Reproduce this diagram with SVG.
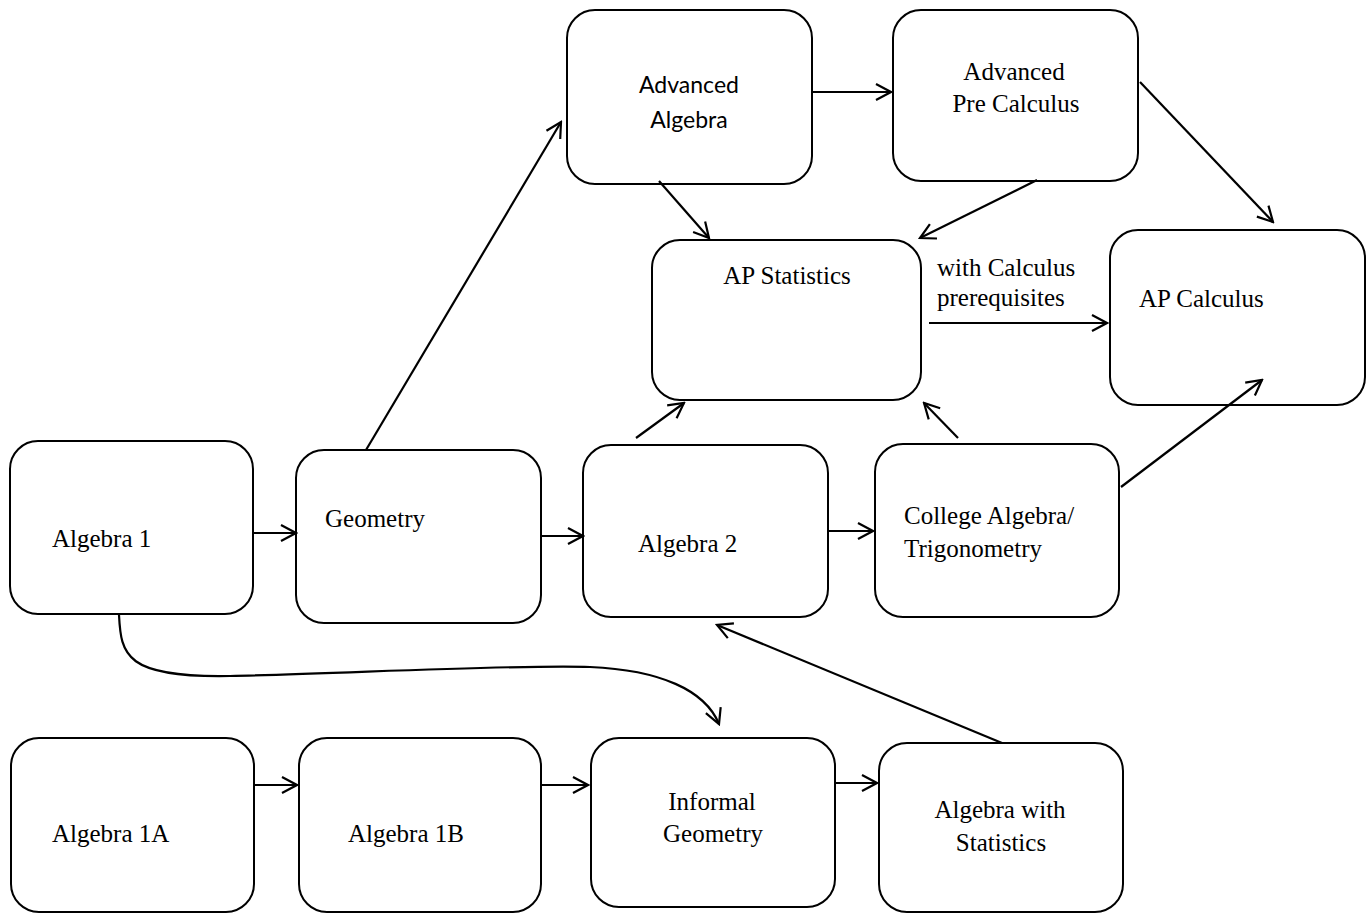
<svg xmlns="http://www.w3.org/2000/svg" width="1368" height="916" viewBox="0 0 1368 916">
<style>
.box{fill:#fff;stroke:#000;stroke-width:2}
.c{fill:none;stroke:#000;stroke-width:2.2}
.t{font-family:"Liberation Serif","Times New Roman",serif;font-size:25px;fill:#000}
.s{font-family:"Lato","Liberation Sans",sans-serif;font-size:23px;fill:#000}
.m{text-anchor:middle}
</style>
<defs>
<marker id="a" markerUnits="userSpaceOnUse" markerWidth="20" markerHeight="20" viewBox="0 0 20 20" refX="18" refY="10" orient="auto">
<path d="M3,2 L18,10 L3,18" fill="none" stroke="#000" stroke-width="2.2"/>
</marker>
</defs>
<rect width="1368" height="916" fill="#fff"/>
<g id="algebra1"><rect class="box" x="10" y="441" width="243" height="173" rx="28"/><text class="t" x="52" y="547">Algebra 1</text></g>
<g id="geometry"><rect class="box" x="296" y="450" width="245" height="173" rx="28"/><text class="t" x="325" y="527">Geometry</text></g>
<g id="algebra2"><rect class="box" x="583" y="445" width="245" height="172" rx="28"/><text class="t" x="638" y="552">Algebra 2</text></g>
<g id="college"><rect class="box" x="875" y="444" width="244" height="173" rx="28"/><text class="t" x="904" y="524">College Algebra/</text><text class="t" x="904" y="557">Trigonometry</text></g>
<g id="advalg"><rect class="box" x="567" y="10" width="245" height="174" rx="28"/><text class="s m" x="689" y="93">Advanced</text><text class="s m" x="689" y="128">Algebra</text></g>
<g id="advprecalc"><rect class="box" x="893" y="10" width="245" height="171" rx="28"/><text class="t m" x="1014" y="80">Advanced</text><text class="t m" x="1016" y="112">Pre Calculus</text></g>
<g id="apstats"><rect class="box" x="652" y="240" width="269" height="160" rx="28"/><text class="t m" x="787" y="284">AP Statistics</text></g>
<g id="label"><text class="t" x="937" y="276">with Calculus</text><text class="t" x="937" y="306">prerequisites</text></g>
<g id="apcalc"><rect class="box" x="1110" y="230" width="255" height="175" rx="28"/><text class="t" x="1139" y="307">AP Calculus</text></g>
<g id="algebra1a"><rect class="box" x="11" y="738" width="243" height="174" rx="28"/><text class="t" x="52" y="842">Algebra 1A</text></g>
<g id="algebra1b"><rect class="box" x="299" y="738" width="242" height="174" rx="28"/><text class="t" x="348" y="842">Algebra 1B</text></g>
<g id="informal"><rect class="box" x="591" y="738" width="244" height="169" rx="28"/><text class="t m" x="712" y="810">Informal</text><text class="t m" x="713" y="842">Geometry</text></g>
<g id="algstats"><rect class="box" x="879" y="743" width="244" height="169" rx="28"/><text class="t m" x="1000" y="818">Algebra with</text><text class="t m" x="1001" y="851">Statistics</text></g>
<g id="connectors">
<line class="c" x1="253" y1="533" x2="296" y2="533" marker-end="url(#a)"/>
<line class="c" x1="541" y1="536" x2="583" y2="536" marker-end="url(#a)"/>
<line class="c" x1="828" y1="531" x2="873" y2="531" marker-end="url(#a)"/>
<line class="c" x1="366" y1="450" x2="561" y2="122" marker-end="url(#a)"/>
<line class="c" x1="812" y1="92" x2="891" y2="92" marker-end="url(#a)"/>
<line class="c" x1="659" y1="181" x2="709" y2="238" marker-end="url(#a)"/>
<line class="c" x1="1037" y1="180" x2="920" y2="238" marker-end="url(#a)"/>
<line class="c" x1="1140" y1="82" x2="1273" y2="222" marker-end="url(#a)"/>
<line class="c" x1="929" y1="323" x2="1107" y2="323" marker-end="url(#a)"/>
<line class="c" x1="636" y1="438" x2="684" y2="403" marker-end="url(#a)"/>
<line class="c" x1="958" y1="438" x2="924" y2="403" marker-end="url(#a)"/>
<line class="c" x1="1121" y1="487" x2="1262" y2="380" marker-end="url(#a)"/>
<line class="c" x1="1002" y1="743" x2="717" y2="625" marker-end="url(#a)"/>
<line class="c" x1="254" y1="785" x2="297" y2="785" marker-end="url(#a)"/>
<line class="c" x1="541" y1="785" x2="588" y2="785" marker-end="url(#a)"/>
<line class="c" x1="835" y1="783" x2="877" y2="783" marker-end="url(#a)"/>
<path class="c" d="M119,615 C121,655 125,678 230,676 S520,664 590,667 C660,670 705,690 719,724" marker-end="url(#a)"/>
</g>
</svg>
